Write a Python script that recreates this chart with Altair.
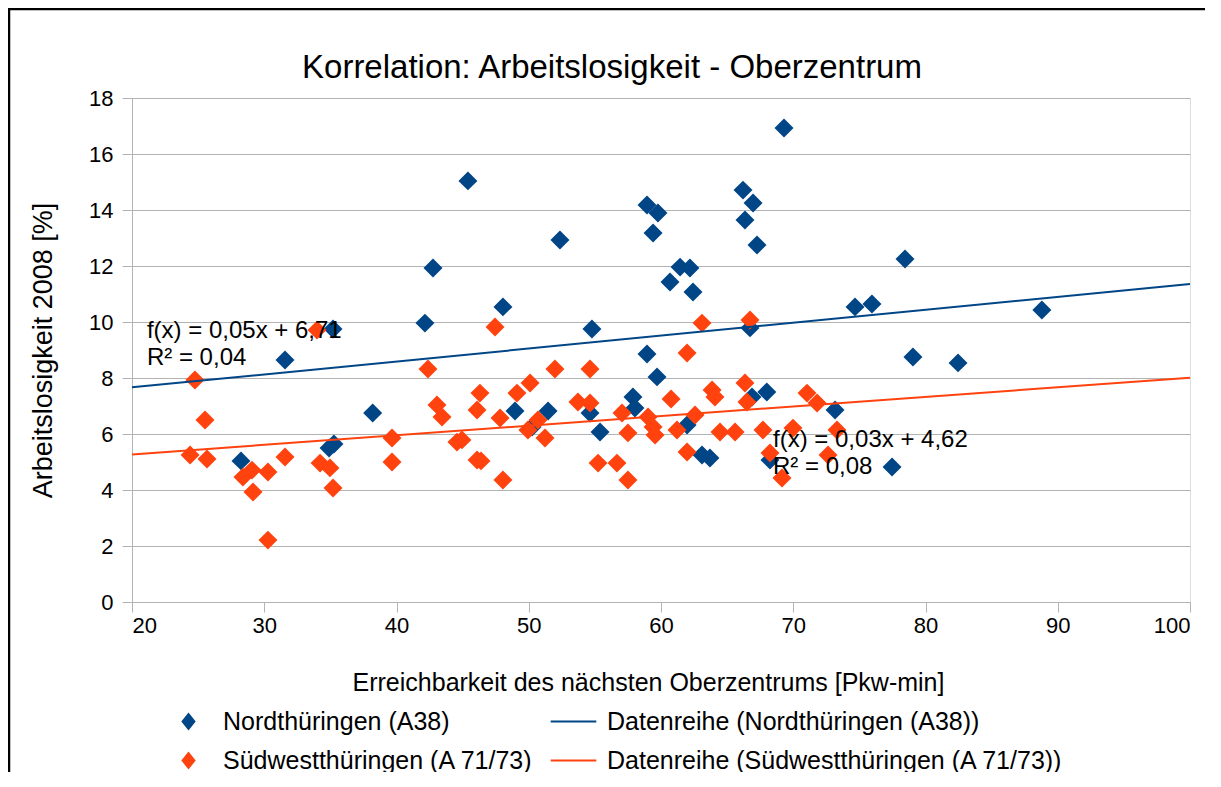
import altair as alt
import pandas as pd

# ---- data ----
nord_x = [28.24, 31.57, 35.2, 34.9, 35.27, 38.2, 42.15, 42.76, 45.4, 48.05, 48.96, 50.25,
          51.46, 52.36, 54.63, 54.78, 55.39, 57.88, 58.03, 58.94, 59.77, 59.4, 58.94, 59.7,
          60.68, 61.44, 62.19, 62.42, 61.97, 63.1, 63.7, 66.2, 66.96, 66.35, 67.26, 66.73,
          66.88, 68.0, 68.24, 69.3, 73.16, 74.67, 75.95, 77.47, 78.45, 79.05, 82.46, 88.8]
nord_y = [5.04, 8.64, 9.75, 5.5, 5.64, 6.75, 9.96, 11.93, 15.04, 10.54, 6.82, 6.25,
          6.82, 12.93, 6.75, 9.75, 6.07, 7.32, 6.93, 14.18, 13.89, 13.18, 8.86, 8.04,
          11.43, 11.96, 11.93, 11.07, 6.32, 5.25, 5.14, 14.71, 14.25, 13.64, 12.75, 9.79,
          7.32, 7.5, 5.07, 16.93, 6.86, 10.54, 10.64, 4.82, 12.25, 8.75, 8.54, 10.43]

sued_x = [24.76, 25.52, 24.39, 25.67, 28.39, 29.07, 29.15, 30.28, 30.28, 31.57, 33.99, 34.22,
          34.97, 35.2, 39.66, 39.66, 42.38, 43.06, 43.44, 44.57, 44.95, 46.09, 46.39, 46.31,
          46.09, 47.45, 47.83, 48.05, 49.11, 50.1, 49.94, 50.7, 51.23, 51.98, 53.72, 54.63,
          54.63, 55.24, 56.67, 57.05, 57.5, 57.5, 59.02, 59.4, 59.55, 60.76, 61.21, 61.97,
          61.97, 62.57, 63.1, 63.86, 64.08, 64.46, 65.6, 66.35, 66.5, 66.73, 67.71, 68.24,
          69.15, 69.98, 71.04, 71.8, 72.63, 73.31]
sued_y = [7.93, 6.5, 5.25, 5.11, 4.46, 4.71, 3.93, 4.64, 2.21, 5.18, 9.71, 4.96,
          4.79, 4.07, 5.86, 5.0, 8.32, 7.04, 6.61, 5.71, 5.79, 5.07, 5.04, 7.46,
          6.86, 9.82, 6.57, 4.36, 7.46, 7.82, 6.14, 6.5, 5.86, 8.32, 7.14, 8.32,
          7.11, 4.96, 4.96, 6.75, 6.04, 4.36, 6.61, 6.25, 5.96, 7.25, 6.14, 8.89,
          5.36, 6.68, 9.96, 7.57, 7.32, 6.07, 6.07, 7.82, 7.14, 10.07, 6.14, 5.32,
          4.43, 6.21, 7.46, 7.11, 5.25, 6.14]

regions = ["Nordthüringen (A38)", "Südwestthüringen (A 71/73)"]
reihen = ["Datenreihe (Nordthüringen (A38))", "Datenreihe (Südwestthüringen (A 71/73))"]
colors = ["#004586", "#ff420e"]

ann_text = ["f(x) = 0,05x + 6,71", "R² = 0,04", "f(x) = 0,03x + 4,62", "R² = 0,08"]
ann_x = [21.13, 21.13, 68.47, 68.47]
ann_y = [9.68, 8.71, 5.79, 4.82]

x_ticks = [20, 30, 40, 50, 60, 70, 80, 90, 100]
y_ticks = [0, 2, 4, 6, 8, 10, 12, 14, 16, 18]

# ---- tables ----
rows = []
for xs, ys, reg, rh in [(nord_x, nord_y, regions[0], reihen[0]), (sued_x, sued_y, regions[1], reihen[1])]:
    for a, b in zip(xs, ys):
        rows.append({"x": a, "y": b, "Region": reg, "Reihe": rh})
df = pd.DataFrame(rows)
ann = pd.DataFrame({"x": ann_x, "y": ann_y, "t": ann_text})

FONT = "Liberation Sans"
xscale = alt.Scale(domain=[20, 100], nice=False, zero=False)
yscale = alt.Scale(domain=[0, 18], nice=False)

xax = alt.Axis(values=x_ticks, grid=False, tickSize=10, tickColor="#b3b3b3", domainColor="#b3b3b3",
               labelFontSize=22, labelFont=FONT, labelColor="black", labelPadding=3,
               title="Erreichbarkeit des nächsten Oberzentrums [Pkw-min]", titleFont=FONT,
               titleFontSize=25, titleFontWeight="normal", titleColor="black", titlePadding=34,
               titleX=516, titleAlign="center")
yax = alt.Axis(values=y_ticks, grid=True, gridColor="#b3b3b3", tickSize=10, tickColor="#b3b3b3",
               domainColor="#b3b3b3", labelFontSize=22, labelFont=FONT, labelColor="black",
               labelPadding=9, title="Arbeitslosigkeit 2008 [%]", titleFont=FONT, titleFontSize=27,
               titleFontWeight="normal", titleColor="black", titlePadding=31)

points = alt.Chart(df).mark_point(shape="diamond", filled=True, size=360, opacity=1).encode(
    x=alt.X("x:Q", scale=xscale, axis=xax),
    y=alt.Y("y:Q", scale=yscale, axis=yax),
    color=alt.Color("Region:N", scale=alt.Scale(domain=regions, range=colors),
                    legend=alt.Legend(orient="none", legendX=44, legendY=611, title=None,
                                      symbolType="M0,-1L0.8,0L0,1L-0.8,0Z", symbolSize=324,
                                      labelFontSize=25, labelFont=FONT, labelColor="black",
                                      labelOffset=22, rowPadding=13, symbolOpacity=1,
                                      labelLimit=0)),
)

lines = alt.Chart(df).transform_regression("x", "y", groupby=["Reihe"], extent=[20, 100]).mark_line(
    strokeWidth=2).encode(
    x="x:Q",
    y="y:Q",
    stroke=alt.Stroke("Reihe:N", scale=alt.Scale(domain=reihen, range=colors),
                      legend=alt.Legend(orient="none", legendX=429, legendY=611, title=None,
                                        symbolType="M-2.4,0L2.4,0", symbolSize=361,
                                        symbolStrokeWidth=2,
                                        labelFontSize=25, labelFont=FONT, labelColor="black",
                                        labelOffset=21, rowPadding=13, labelLimit=0)),
)

labels = alt.Chart(ann).mark_text(align="left", baseline="middle", fontSize=24, font=FONT,
                                  color="black").encode(x="x:Q", y="y:Q", text="t:N")

frame = alt.Chart(alt.Data(values=[{"a": 1}])).mark_rect(filled=False, stroke="black",
                                                         strokeWidth=2.5).encode(
    x=alt.value(-123), x2=alt.value(1086), y=alt.value(-89), y2=alt.value(720))

chart = alt.layer(points, lines, labels, frame).properties(
    width=1058, height=504,
    autosize=alt.AutoSizeParams(type="none"),
    padding={"left": 124, "top": 90, "right": 15, "bottom": 170},
    title=alt.TitleParams("Korrelation: Arbeitslosigkeit - Oberzentrum", fontSize=33, font=FONT,
                          fontWeight="normal", color="black", anchor="middle", frame="group",
                          dx=-49, offset=-77),
).configure_view(stroke="#b3b3b3", strokeWidth=1).configure(background="white")

chart.save("out.html", embed_options={"renderer": "svg", "actions": False})
